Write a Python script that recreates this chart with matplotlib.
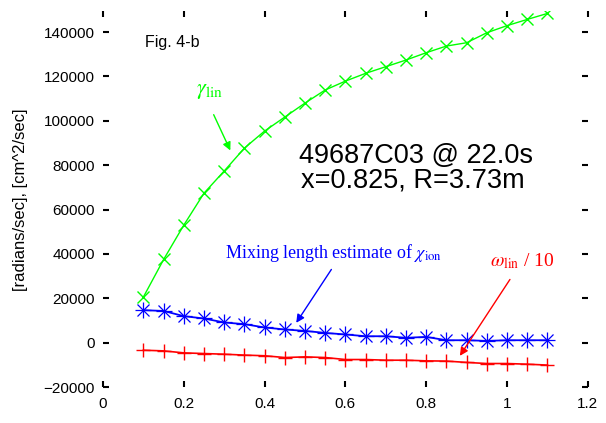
#!/usr/bin/python3

import matplotlib
matplotlib.use("Agg")
import matplotlib.pyplot as plt

## radial positions of the points
xPos = [0.10, 0.15, 0.20, 0.25, 0.30, 0.35, 0.40, 0.45, 0.50, 0.55, 0.60,
        0.65, 0.70, 0.75, 0.80, 0.85, 0.90, 0.95, 1.00, 1.05, 1.10]

## growth rate gamma_lin [radians/sec]
gammaLin = [20600, 37500, 53000, 67400, 77400, 87700, 95400, 101700, 108000, 113900, 117900,
            121400, 124400, 127400, 130700, 133700, 135200, 139700, 142900, 145700, 148400]

## mixing length estimate of chi_ion [cm^2/sec]
chiIon = [14650, 14300, 11950, 10900, 9100, 8350, 6850, 5950, 5300, 4400, 3700,
          2900, 2900, 2200, 2600, 1100, 1100, 800, 1100, 1100, 1100]

## real frequency omega_lin / 10
omegaLin = [-3400, -3700, -4600, -4900, -5200, -5600, -5900, -6700, -6400, -6700, -7600,
            -7600, -7900, -7900, -8200, -8300, -8900, -9400, -9400, -9700, -10100]

xTicks = [0, 0.2, 0.4, 0.6, 0.8, 1, 1.2]
xTickLabels = ["0", "0.2", "0.4", "0.6", "0.8", "1", "1.2"]
yTicks = [-20000, 0, 20000, 40000, 60000, 80000, 100000, 120000, 140000]


def main():
    plt.rcParams['font.family'] = ['Liberation Sans', 'DejaVu Sans']
    plt.rcParams['mathtext.fontset'] = 'stix'

    fig = plt.figure(figsize=(6.06, 4.23), dpi=100)
    ax = fig.add_axes([0.170, 0.085, 0.800, 0.889])

    ax.plot(xPos, gammaLin, color='#00ff00', lw=1.0, marker='x', ms=9, mew=1.0)
    ## gnuplot style asterisk: a '+' and an 'x' on top of each other
    ax.plot(xPos, chiIon, color='#0000ff', lw=1.3, marker='+', ms=11, mew=0.9)
    ax.plot(xPos, chiIon, color='#0000ff', lw=0, marker='x', ms=8, mew=0.9)
    ax.plot(xPos, omegaLin, color='#ff0000', lw=1.2, marker='+', ms=10, mew=1.0)

    ax.set_xlim(0, 1.2)
    ax.set_ylim(-20000, 149500)
    ax.set_xticks(xTicks)
    ax.set_xticklabels(xTickLabels)
    ax.set_yticks(yTicks)
    ax.tick_params(direction='in', length=4.5, width=1.5, top=True, right=True,
                   labelsize=11, color='black')
    ax.tick_params(axis='x', pad=7)
    ax.tick_params(axis='y', pad=6)
    for s in ax.spines.values():
        s.set_visible(False)

    fig.text(21 / 606, 1 - 200 / 423, "[radians/sec], [cm^2/sec]", rotation=90,
             ha='center', va='center', fontsize=12)

    ## labels in the plot
    ax.text(0.104, 135500, "Fig. 4-b", fontsize=11.5, va='center', ha='left')
    ax.text(0.484, 80900, "49687C03 @ 22.0s", fontsize=19.5, va='baseline', ha='left')
    ax.text(0.489, 70100, "x=0.825, R=3.73m", fontsize=19.5, va='baseline', ha='left')

    serif = ['Liberation Serif', 'DejaVu Serif']
    ax.text(0.229, 112100, r"$\gamma_{\rm lin}$", color='#00ff00', fontsize=16,
            family=serif, va='baseline')
    ax.annotate("", xy=(0.318, 85500), xytext=(0.271, 103900),
                arrowprops=dict(arrowstyle='-|>', color='#00ff00', lw=1.0, mutation_scale=12))

    ax.text(0.303, 38100, r"Mixing length estimate of $\chi_{\rm ion}$", color='#0000ff',
            fontsize=13, family=serif, va='baseline')
    ax.annotate("", xy=(0.4745, 7900), xytext=(0.569, 34050),
                arrowprops=dict(arrowstyle='-|>', color='#0000ff', lw=1.0, mutation_scale=12))

    ax.text(0.957, 34500, r"$\omega_{\rm lin}$ / 10", color='#ff0000',
            fontsize=14, family=serif, va='baseline')
    ax.annotate("", xy=(0.8795, -6990), xytext=(1.011, 29540),
                arrowprops=dict(arrowstyle='-|>', color='#ff0000', lw=1.0, mutation_scale=12))

    plt.savefig("out.png", dpi=100)
    plt.close()


if __name__ == "__main__":
    main()
